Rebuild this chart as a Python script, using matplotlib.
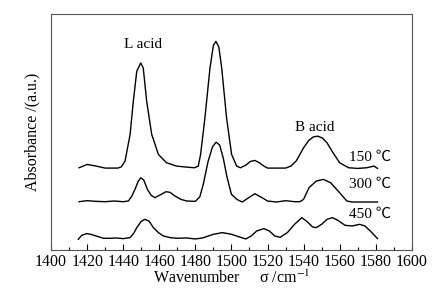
import matplotlib
matplotlib.use("Agg")
import matplotlib.pyplot as plt
from matplotlib.ticker import MultipleLocator

plt.rcParams['font.family'] = ['Liberation Serif', 'Noto Sans CJK SC', 'DejaVu Sans']
plt.rcParams['mathtext.fontset'] = 'stix'

# 150 ℃
wn_150 = [1415.5, 1420, 1425, 1430, 1437, 1439, 1441, 1443.8, 1445.6, 1447.5, 1449.7,
          1451.1, 1453, 1455.8, 1459.5, 1464, 1469.6, 1475, 1479.5, 1481.6, 1482.9,
          1485.3, 1488.1, 1490, 1491.4, 1493, 1494.6, 1497.3, 1500.1, 1502.9, 1505,
          1508, 1510.5, 1513, 1515.5, 1518, 1520, 1530, 1533, 1536, 1540, 1543, 1545.5,
          1548, 1550.5, 1553, 1556, 1560, 1565, 1570, 1575, 1579, 1581]
ab_150 = [2.47, 2.57, 2.52, 2.46, 2.46, 2.50, 2.67, 3.47, 4.47, 5.37, 5.62,
          5.47, 4.47, 3.47, 2.87, 2.62, 2.52, 2.49, 2.47, 2.52, 2.87,
          3.97, 5.47, 6.15, 6.27, 6.10, 5.47, 3.97, 2.87, 2.52, 2.47,
          2.55, 2.66, 2.69, 2.62, 2.52, 2.46, 2.46, 2.52, 2.68, 3.07, 3.30, 3.40,
          3.42, 3.36, 3.22, 2.95, 2.62, 2.47, 2.45, 2.47, 2.52, 2.45]

# 300 ℃
wn_300 = [1415.5, 1420, 1425, 1430, 1435, 1440, 1442.8, 1444.8, 1446.5, 1448.2, 1449.7,
          1451.4, 1453.4, 1455.5, 1457.6, 1460, 1463.7, 1466, 1468.7, 1472, 1475.2, 1480,
          1482.5, 1484.5, 1487, 1489.5, 1491.5, 1493.5, 1495.5, 1497.5, 1500, 1503, 1506,
          1509, 1513, 1517, 1520, 1525, 1530, 1535, 1538, 1540, 1543, 1547, 1551, 1555,
          1560, 1564, 1567, 1581]
ab_300 = [1.45, 1.48, 1.46, 1.45, 1.47, 1.45, 1.47, 1.62, 1.82, 2.05, 2.17,
          2.10, 1.82, 1.64, 1.57, 1.64, 1.75, 1.73, 1.62, 1.52, 1.47, 1.46,
          1.60, 2.00, 2.65, 3.10, 3.24, 3.15, 2.75, 2.20, 1.67, 1.52, 1.44,
          1.55, 1.69, 1.57, 1.47, 1.44, 1.48, 1.45, 1.45, 1.52, 1.87, 2.07, 2.12, 2.02,
          1.72, 1.47, 1.44, 1.44]

# 450 ℃
wn_450 = [1415.1, 1417, 1419.8, 1422, 1424.4, 1429, 1433, 1436, 1440, 1443.8, 1445.8,
          1447.5, 1450, 1452.1, 1454.4, 1456.7, 1459.5, 1462.2, 1466, 1470, 1475, 1480,
          1484, 1490, 1495, 1500, 1505, 1508, 1511, 1514, 1518, 1521, 1524, 1527,
          1531, 1535, 1539, 1542, 1545, 1547, 1550, 1553, 1556, 1559, 1563, 1567,
          1571, 1574, 1577, 1581]
ab_450 = [0.32, 0.44, 0.49, 0.47, 0.43, 0.35, 0.35, 0.36, 0.34, 0.37, 0.50,
          0.67, 0.86, 0.92, 0.86, 0.67, 0.52, 0.42, 0.37, 0.35, 0.36, 0.33,
          0.36, 0.47, 0.52, 0.47, 0.38, 0.33, 0.42, 0.57, 0.64, 0.57, 0.42, 0.38,
          0.52, 0.77, 0.97, 0.85, 0.69, 0.67, 0.77, 0.92, 0.97, 0.89, 0.74, 0.72,
          0.77, 0.72, 0.57, 0.34]

fig = plt.figure(figsize=(4.33, 2.93), dpi=100)
ax = fig.add_axes([0.118, 0.147, 0.833, 0.805])

for wn, ab in [(wn_150, ab_150), (wn_300, ab_300), (wn_450, ab_450)]:
    ax.plot(wn, ab, color='black', lw=1.0, solid_joinstyle='round')

ax.text(1451, 6.17, "L acid", ha='center', va='center', fontsize=11)
ax.text(1546, 3.69, "B acid", ha='center', va='center', fontsize=11)
ax.text(1577, 2.77, "150 ℃", ha='center', va='center', fontsize=11)
ax.text(1577, 1.97, "300 ℃", ha='center', va='center', fontsize=11)
ax.text(1577, 1.07, "450 ℃", ha='center', va='center', fontsize=11)

ax.set_xlim(1400, 1600)
ax.set_ylim(0, 7.09)
ax.xaxis.set_major_locator(MultipleLocator(20))
ax.xaxis.set_minor_locator(MultipleLocator(10))
ax.tick_params(axis='x', which='major', direction='in', length=4, width=0.8, labelsize=11.5, pad=3)
ax.tick_params(axis='x', which='minor', direction='in', length=2, width=0.8)
ax.set_yticks([])
for s in ax.spines.values():
    s.set_color('#555555')
    s.set_linewidth(0.8)

ax.set_xlabel("Wavenumber     σ /cm$^{-1}$", fontsize=11.5, labelpad=0)
ax.set_ylabel("Absorbance /(a.u.)", fontsize=11.5, labelpad=8)

fig.savefig("out.png", dpi=100)
